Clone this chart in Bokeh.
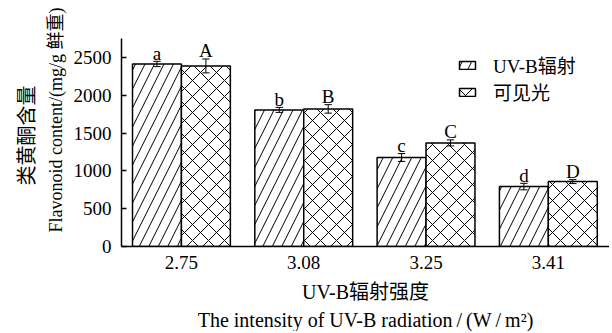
from bokeh.plotting import figure
from bokeh.models import (ColumnDataSource, Range1d, FixedTicker, Title,
                          Legend, LegendItem)
from bokeh.core.properties import value
from bokeh.embed import file_html
from bokeh.resources import INLINE

categories = ["2.75", "3.08", "3.25", "3.41"]
uvb_values = [2416, 1808, 1178, 793]
uvb_errors = [35, 33, 52, 43]
uvb_letters = ["a", "b", "c", "d"]
vis_values = [2390, 1821, 1371, 859]
vis_errors = [92, 56, 40, 26]
vis_letters = ["A", "B", "C", "D"]
y_ticks = [0, 500, 1000, 1500, 2000, 2500]
series_names = ["UV-B辐射", "可见光"]
x_title = "UV-B辐射强度"
x_title_en = "The intensity of UV-B radiation\u2009/\u2009(W\u2009/\u2009m²)"
y_title = "类黄酮含量"
y_title_en = "Flavonoid content/(mg/g 鲜重)"

FONT = "Liberation Serif, Noto Sans CJK SC"
FS = "19px"
BAR_W = 0.4
CAP = 0.03


def make_source(xs, vals, errs, labs):
    up = [v + e for v, e in zip(vals, errs)]
    lo = [v - e for v, e in zip(vals, errs)]
    return ColumnDataSource(dict(x=xs, top=vals, upper=up, lower=lo, lab=labs,
                                 cx0=[x - CAP for x in xs], cx1=[x + CAP for x in xs]))


idx = list(range(len(categories)))
src_u = make_source([i - BAR_W / 2 for i in idx], uvb_values, uvb_errors, uvb_letters)
src_v = make_source([i + BAR_W / 2 for i in idx], vis_values, vis_errors, vis_letters)

p = figure(width=609, height=331, output_backend="svg", toolbar_location=None,
           x_range=Range1d(-0.49, 3.5), y_range=Range1d(0, 2753),
           min_border_left=121, min_border_right=0, min_border_top=38,
           min_border_bottom=83)
p.outline_line_color = None
p.grid.visible = False

r_u = p.vbar(x="x", top="top", width=BAR_W, source=src_u, fill_color="white",
             line_color="black", line_width=1.5, hatch_pattern="/",
             hatch_scale=19, hatch_color="black", hatch_weight=1)
r_v = p.vbar(x="x", top="top", width=BAR_W, source=src_v, fill_color="white",
             line_color="black", line_width=1.5, hatch_pattern="x",
             hatch_scale=16, hatch_color="black", hatch_weight=1)

for src in (src_u, src_v):
    p.segment(x0="x", y0="lower", x1="x", y1="upper", source=src,
              line_color="black", line_width=1)
    p.segment(x0="cx0", y0="upper", x1="cx1", y1="upper", source=src,
              line_color="black", line_width=1)
    p.segment(x0="cx0", y0="lower", x1="cx1", y1="lower", source=src,
              line_color="black", line_width=1)
    p.text(x="x", y="upper", text="lab", source=src, text_font=value(FONT),
           text_font_size=FS, text_align="center", text_baseline="alphabetic",
           y_offset=-8, text_color="black")

# axes
p.xaxis.ticker = FixedTicker(ticks=idx)
p.xaxis.major_label_overrides = {i: c for i, c in zip(idx, categories)}
p.xaxis.major_tick_in = 0
p.xaxis.major_tick_out = 0
p.xaxis.minor_tick_line_color = None
p.xaxis.major_label_standoff = 9
p.xaxis.axis_label = x_title
p.xaxis.axis_label_standoff = 9
p.yaxis.ticker = FixedTicker(ticks=y_ticks)
p.yaxis.major_tick_in = 5
p.yaxis.major_tick_out = 0
p.yaxis.minor_tick_line_color = None
p.yaxis.major_label_standoff = 10
for ax in (p.xaxis, p.yaxis):
    ax.axis_line_color = "black"
    ax.axis_line_width = 1.5
    ax.major_tick_line_color = "black"
    ax.major_tick_line_width = 1.5
    ax.major_label_text_font = FONT
    ax.major_label_text_font_size = FS
    ax.major_label_text_color = "black"
    ax.axis_label_text_font = FONT
    ax.axis_label_text_font_size = "20px"
    ax.axis_label_text_font_style = "normal"
    ax.axis_label_text_color = "black"

tcommon = dict(text_font=FONT, text_font_style="normal", text_color="black")
p.add_layout(Title(text=x_title_en, align="center", standoff=2,
                   text_font_size="20px", **tcommon), "below")
p.add_layout(Title(text=y_title_en, align="left", offset=14, standoff=6,
                   vertical_align="top", text_font_size="18px", **tcommon), "left")
p.add_layout(Title(text=y_title, align="left", offset=61, standoff=5,
                   vertical_align="top", text_font_size="20px", **tcommon), "left")

legend = Legend(items=[LegendItem(label=series_names[0], renderers=[r_u]),
                       LegendItem(label=series_names[1], renderers=[r_v])],
                location=(336, 141), glyph_width=20, glyph_height=10,
                label_height=20, spacing=0, padding=0, margin=0,
                label_standoff=16, border_line_color=None,
                background_fill_alpha=0, label_text_font=FONT,
                label_text_font_size=FS, label_text_color="black")
p.add_layout(legend, "center")

open("out.html", "w").write(file_html(p, INLINE))
